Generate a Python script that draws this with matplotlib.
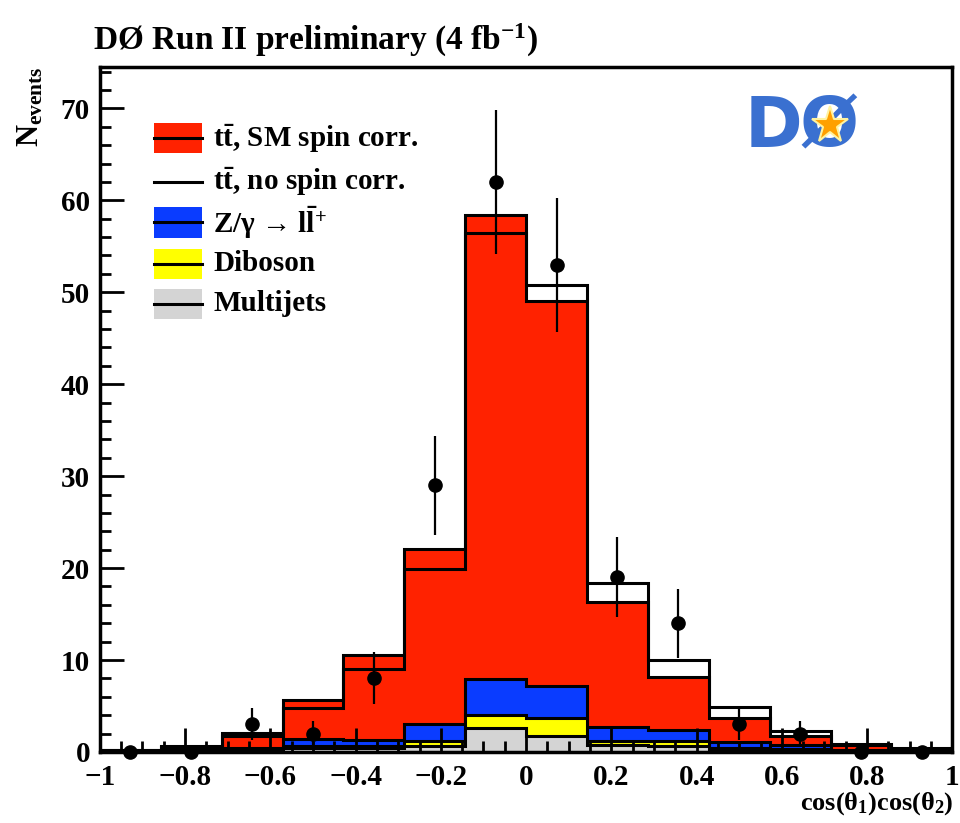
import numpy as np
import matplotlib
matplotlib.use("Agg")
import matplotlib.pyplot as plt
from matplotlib.patches import Rectangle
from matplotlib.lines import Line2D

# bins in cos(theta1)cos(theta2)
edges = np.linspace(-1, 1, 15)
centers = 0.5 * (edges[:-1] + edges[1:])

# per-bin contributions
multijets = [0.05, 0.1, 0.1, 0.4, 0.4, 0.6, 2.6, 1.7, 0.8, 0.7, 0.2, 0.1, 0.05, 0.05]
diboson = [0.05, 0.05, 0.1, 0.2, 0.2, 0.6, 1.4, 2.0, 0.4, 0.5, 0.2, 0.2, 0.05, 0.0]
zgamma = [0.05, 0.05, 0.2, 0.8, 0.7, 1.8, 3.9, 3.5, 1.5, 1.2, 0.7, 0.45, 0.1, 0.05]
ttbar_sm = [0.05, 0.4, 1.7, 4.2, 9.2, 19.1, 50.5, 41.9, 13.6, 5.8, 2.6, 0.95, 0.6, 0.2]
total_nospin = [0.2, 0.55, 1.7, 4.75, 9.0, 19.9, 56.4, 50.8, 18.4, 10.0, 4.9, 2.3, 0.9, 0.4]
data = [0, 0, 3, 2, 8, 29, 62, 53, 19, 14, 3, 2, 0, 0]

plt.rcParams["font.family"] = "Liberation Serif"
plt.rcParams["font.weight"] = "bold"
plt.rcParams["mathtext.fontset"] = "custom"
plt.rcParams["mathtext.rm"] = "Liberation Serif:bold"
plt.rcParams["mathtext.it"] = "Liberation Serif:bold"
plt.rcParams["mathtext.bf"] = "Liberation Serif:bold"

RED = "#ff2200"
BLUE = "#0a3cff"
YELLOW = "#ffff00"
GRAY = "#d4d4d4"

fig = plt.figure(figsize=(9.6, 8.23), dpi=100)
ax = fig.add_axes([0.104, 0.0863, 0.888, 0.8323])

# cumulative stack tops
s_mj = np.array(multijets)
s_db = s_mj + np.array(diboson)
s_z = s_db + np.array(zgamma)
s_tt = s_z + np.array(ttbar_sm)

for top, col in [(s_tt, RED), (s_z, BLUE), (s_db, YELLOW), (s_mj, GRAY)]:
    ax.stairs(top, edges, fill=True, facecolor=col, edgecolor="none")
    ax.stairs(top, edges, color="black", lw=2.2)

ax.stairs(total_nospin, edges, color="black", lw=2.2)

d = np.array(data, dtype=float)
err = np.sqrt(d)
ax.errorbar(centers, d, yerr=err, fmt="o", color="black", ms=9.5,
            elinewidth=1.6, capsize=0, zorder=5, clip_on=False)

ax.set_xlim(-1, 1)
ax.set_ylim(0, 74.5)
ax.set_xticks(np.arange(-1, 1.01, 0.2))
ax.set_xticklabels(["\u22121", "\u22120.8", "\u22120.6", "\u22120.4", "\u22120.2",
                    "0", "0.2", "0.4", "0.6", "0.8", "1"])
ax.set_xticks(np.arange(-1, 1.01, 0.05), minor=True)
ax.set_yticks(np.arange(0, 71, 10))
ax.set_yticks(np.arange(0, 75, 2), minor=True)
ax.tick_params(which="both", direction="in", top=False, right=False,
               labelsize=21, width=2)
ax.tick_params(axis="x", pad=9)
ax.tick_params(axis="y", pad=7)
ax.tick_params(which="major", length=17)
ax.tick_params(which="minor", length=8)
for sp in ax.spines.values():
    sp.set_linewidth(2.5)

# legend drawn by hand
rows = [
    ("$t\\bar{t}$, SM spin corr.", RED),
    ("$t\\bar{t}$, no spin corr.", None),
    ("Z/\u03b3 \u2192 l$\\bar{l}^{+}$", BLUE),
    ("Diboson", YELLOW),
    ("Multijets", GRAY),
]
ys = [0.896, 0.832, 0.773, 0.713, 0.654]
for (lab, col), y in zip(rows, ys):
    if col is not None:
        ax.add_patch(Rectangle((0.064, y - 0.022), 0.056, 0.044, transform=ax.transAxes,
                               facecolor=col, edgecolor="none", zorder=6))
    ax.add_line(Line2D([0.064, 0.120], [y, y], transform=ax.transAxes,
                       color="black", lw=2.2, zorder=7))
    ax.text(0.133, y, lab, transform=ax.transAxes, fontsize=21, va="center",
            ha="left", zorder=7)

# experiment logo (text approximation)
ax.text(0.79, 0.912, "D", transform=ax.transAxes, fontsize=50, color="#3a70d0",
        fontweight="heavy", family="DejaVu Sans", va="center", ha="center")
ax.text(0.855, 0.912, "\u00d8", transform=ax.transAxes, fontsize=50, color="#3a70d0",
        fontweight="heavy", family="DejaVu Sans", va="center", ha="center")
ax.plot([0.857], [0.915], transform=ax.transAxes, marker="*", ms=28,
        color="#ffa000", mec="#fff3a0", mew=1.5, zorder=8)

fig.text(0.097, 0.951, "D\u00d8 Run II preliminary (4 fb$^{-1}$)", fontsize=24,
         va="center", ha="left")
fig.text(0.032, 0.87, "N$_{\\rm events}$", fontsize=22, rotation=90,
         va="center", ha="center")
fig.text(0.993, 0.016, "cos($\\theta_1$)cos($\\theta_2$)", fontsize=19,
         va="baseline", ha="right")

fig.savefig("out.png", dpi=100)
